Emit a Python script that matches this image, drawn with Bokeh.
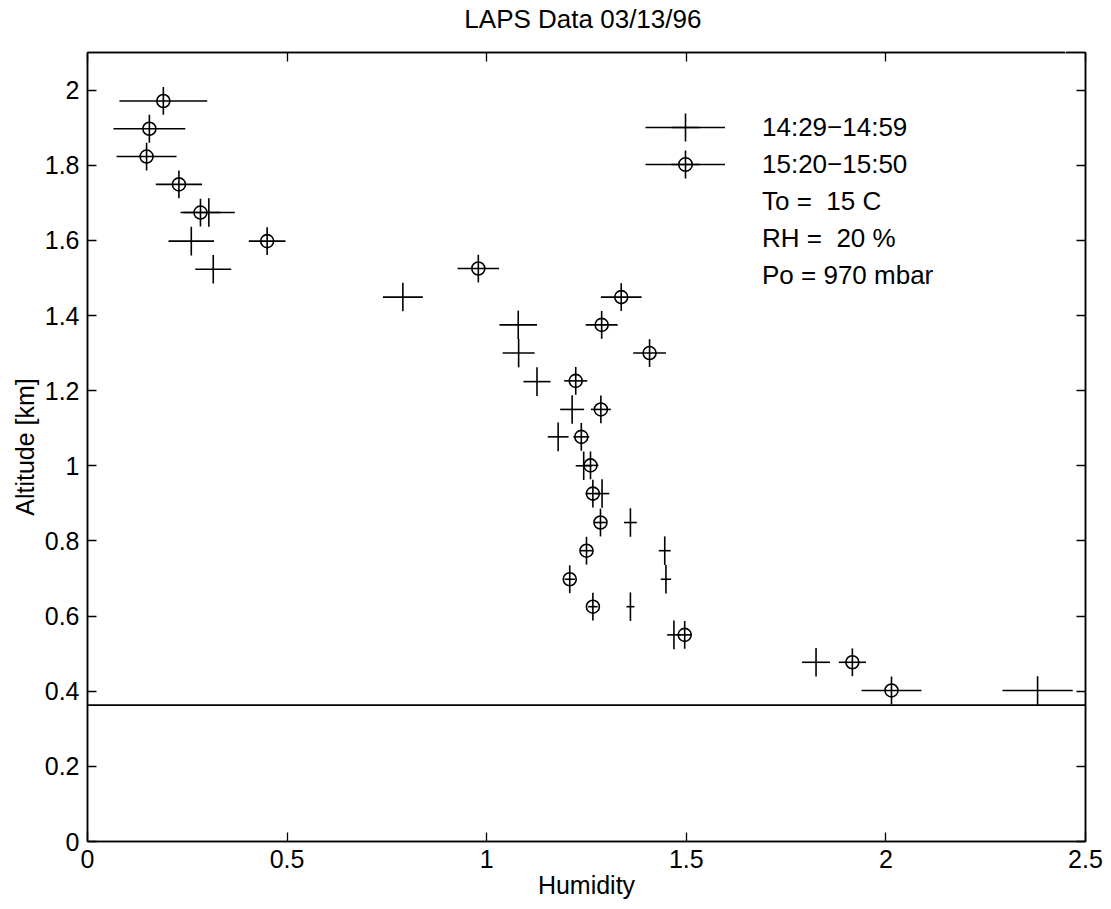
from bokeh.plotting import figure
from bokeh.models import (ColumnDataSource, FixedTicker, LinearAxis, Range1d,
                          Span, Legend, LegendItem)
from bokeh.embed import file_html
from bokeh.resources import INLINE

FONT = "Liberation Sans"

# ---------------- data ----------------
# series 15:20-15:50 (circles)
alt_b = [1.971, 1.897, 1.823, 1.749, 1.674, 1.598, 1.525, 1.449, 1.375, 1.300, 1.226,
         1.150, 1.077, 1.001, 0.926, 0.849, 0.774, 0.698, 0.625, 0.550, 0.477, 0.402]
hum_b = [0.190, 0.155, 0.148, 0.229, 0.283, 0.450, 0.979, 1.337, 1.288, 1.408, 1.223,
         1.286, 1.237, 1.260, 1.266, 1.285, 1.250, 1.208, 1.266, 1.496, 1.916, 2.014]
herr_b = [0.110, 0.090, 0.075, 0.058, 0.050, 0.046, 0.052, 0.051, 0.040, 0.041, 0.029,
          0.025, 0.020, 0.020, 0.018, 0.016, 0.015, 0.013, 0.012, 0.018, 0.034, 0.075]
aerr_b = [0.037, 0.037, 0.037, 0.037, 0.037, 0.037, 0.037, 0.037, 0.037, 0.037, 0.037,
          0.037, 0.037, 0.037, 0.037, 0.037, 0.037, 0.037, 0.037, 0.037, 0.037, 0.037]

# series 14:29-14:59 (crosses)
alt_a = [1.674, 1.598, 1.523, 1.449, 1.375, 1.300, 1.224, 1.150, 1.077, 1.000, 0.926,
         0.849, 0.774, 0.698, 0.625, 0.550, 0.477, 0.402]
hum_a = [0.304, 0.260, 0.315, 0.790, 1.079, 1.080, 1.126, 1.214, 1.179, 1.243, 1.289,
         1.360, 1.446, 1.449, 1.360, 1.469, 1.825, 2.380]
herr_a = [0.065, 0.057, 0.045, 0.050, 0.047, 0.040, 0.034, 0.030, 0.026, 0.020, 0.018,
          0.016, 0.015, 0.013, 0.010, 0.017, 0.035, 0.088]
aerr_a = [0.038, 0.038, 0.038, 0.038, 0.038, 0.038, 0.038, 0.038, 0.038, 0.038, 0.038,
          0.038, 0.038, 0.038, 0.038, 0.038, 0.038, 0.038]

ground_level = 0.363

series_labels = ["14:29\u221214:59", "15:20\u221215:50"]
info_lines = ["To =  15 C", "RH =  20 %", "Po = 970 mbar"]

x_ticks = [0.0, 0.5, 1.0, 1.5, 2.0, 2.5]
x_tick_labels = ["0", "0.5", "1", "1.5", "2", "2.5"]
y_ticks = [0.0, 0.2, 0.4, 0.6, 0.8, 1.0, 1.2, 1.4, 1.6, 1.8, 2.0]
y_tick_labels = ["0", "0.2", "0.4", "0.6", "0.8", "1", "1.2", "1.4", "1.6", "1.8", "2"]

title_text = "LAPS Data  03/13/96"
x_label = "Humidity"
y_label = "Altitude [km]"

NAN = float("nan")


def err_source(x, y, xe, ye):
    return ColumnDataSource(dict(
        x=x, y=y,
        x0=[a - e for a, e in zip(x, xe)], x1=[a + e for a, e in zip(x, xe)],
        y0=[a - e for a, e in zip(y, ye)], y1=[a + e for a, e in zip(y, ye)],
    ))


src_a = err_source(hum_a, alt_a, herr_a, aerr_a)
src_b = err_source(hum_b, alt_b, herr_b, aerr_b)

p = figure(width=1103, height=901, output_backend="svg", toolbar_location=None,
           x_range=Range1d(0, 2.5), y_range=Range1d(0, 2.1),
           min_border_left=87, min_border_right=18, min_border_top=52,
           min_border_bottom=60)

p.grid.visible = False
p.outline_line_color = "black"
p.outline_line_width = 1.5
p.background_fill_color = "white"
p.border_fill_color = "white"

p.title.text = title_text
p.title.align = "center"
p.title.vertical_align = "top"
p.title.text_font = FONT
p.title.text_font_size = "26px"
p.title.text_font_style = "normal"
p.title.text_color = "black"
p.title.standoff = 4


def style_axis(ax, ticks, labels, show):
    ax.ticker = FixedTicker(ticks=ticks)
    ax.major_label_overrides = dict(zip(ticks, labels))
    ax.major_tick_in = 9
    ax.major_tick_out = 0
    ax.minor_tick_line_color = None
    ax.major_tick_line_color = "black"
    ax.major_tick_line_width = 1.3
    ax.axis_line_color = "black"
    ax.axis_line_width = 1.5
    ax.major_label_text_font = FONT
    ax.major_label_text_color = "black"
    ax.axis_label_text_font = FONT
    ax.axis_label_text_font_style = "normal"
    ax.axis_label_text_color = "black"
    ax.axis_label_text_font_size = "25px"
    if show:
        ax.major_label_text_font_size = "25px"
    else:
        ax.major_label_text_font_size = "0px"
        ax.major_label_standoff = 0


xax = p.xaxis[0]
yax = p.yaxis[0]
style_axis(xax, x_ticks, x_tick_labels, True)
style_axis(yax, y_ticks, y_tick_labels, True)
xax.axis_label = x_label
yax.axis_label = y_label
xax.major_label_standoff = 8
xax.axis_label_standoff = 0
yax.major_label_standoff = 8
yax.axis_label_standoff = 3

top_ax = LinearAxis()
style_axis(top_ax, x_ticks, ["" for _ in x_tick_labels], False)
right_ax = LinearAxis()
style_axis(right_ax, y_ticks, ["" for _ in y_tick_labels], False)
p.add_layout(top_ax, "above")
p.add_layout(right_ax, "right")

# invisible spacer (white outward tick on white border) between frame and title
spacer = LinearAxis(ticker=FixedTicker(ticks=[2.45]), major_tick_in=0, major_tick_out=15,
                    axis_line_color=None, major_tick_line_color="white",
                    major_tick_line_width=1, minor_tick_line_color=None,
                    major_label_overrides={2.45: ""}, major_label_standoff=0,
                    major_label_text_font_size="0px")
p.add_layout(spacer, "above")

# ground line
p.add_layout(Span(location=ground_level, dimension="width",
                  line_color="black", line_width=1.6))

# error bars
for src in (src_a, src_b):
    p.segment(x0="x0", y0="y", x1="x1", y1="y", source=src,
              line_color="black", line_width=1.6)
    p.segment(x0="x", y0="y0", x1="x", y1="y1", source=src,
              line_color="black", line_width=1.6)

p.scatter(x="x", y="y", source=src_b, marker="circle", size=13,
          fill_alpha=0, line_color="black", line_width=1.6)


# ---------------- legend ----------------
def dummy():
    return ColumnDataSource(dict(x=[NAN], y=[NAN]))


leg_line_a = p.line(x="x", y="y", source=dummy(), line_color="black", line_width=1.6)
leg_line_b = p.line(x="x", y="y", source=dummy(), line_color="black", line_width=1.6)
leg_circ = p.scatter(x="x", y="y", source=dummy(), marker="circle",
                     fill_alpha=0, line_color="black", line_width=1.6)
leg_blank = p.line(x="x", y="y", source=dummy(), line_alpha=0)
leg_tick_a = p.scatter(x="x", y="y", source=dummy(), marker="cross",
                       line_color="black", line_width=1.6)
leg_tick_b = p.scatter(x="x", y="y", source=dummy(), marker="cross",
                       line_color="black", line_width=1.6)

items_main = [
    LegendItem(label=series_labels[0], renderers=[leg_line_a]),
    LegendItem(label=series_labels[1], renderers=[leg_line_b, leg_circ]),
] + [LegendItem(label=t, renderers=[leg_blank]) for t in info_lines]

legend_main = Legend(items=items_main, location=(558, 549),
                     glyph_width=80, glyph_height=34, spacing=3, padding=0,
                     margin=0, label_standoff=37, label_text_font=FONT,
                     label_text_font_size="26px", label_text_color="black",
                     border_line_alpha=0, background_fill_alpha=0)


def tick_legend(renderer, vy):
    return Legend(items=[LegendItem(label=" ", renderers=[renderer])],
                  location=(558, vy), glyph_width=80, glyph_height=70,
                  spacing=0, padding=0, margin=0, label_standoff=0,
                  label_text_font_size="10px",
                  border_line_alpha=0, background_fill_alpha=0)


p.add_layout(tick_legend(leg_tick_a, 679), "center")
p.add_layout(tick_legend(leg_tick_b, 642), "center")
p.add_layout(legend_main, "center")

open("out.html", "w").write(file_html(p, INLINE))
